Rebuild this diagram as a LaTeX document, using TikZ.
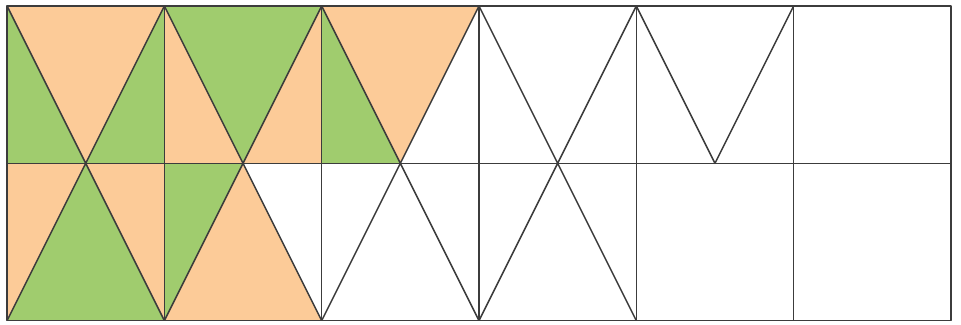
\documentclass[tikz,border=0pt]{standalone}
\usepackage{xcolor}
\usepackage{tikz}
\definecolor{PeachFill}{RGB}{252,203,152}
\definecolor{LeafFill}{RGB}{160,204,110}
\definecolor{PencilLine}{RGB}{60,60,60}

\begin{document}
\begin{tikzpicture}[
  x=2cm,y=2cm,
  peach/.style={fill=PeachFill},
  leaf/.style={fill=LeafFill},
  pencil/.style={draw=PencilLine,line width=0.55pt,line join=round}
]
\useasboundingbox (-0.045,-0.025) rectangle (6.064,2.038);
% top row fills
\fill[leaf]  (0,2) -- (0,1) -- (0.5,1) -- cycle;
\fill[peach] (0,2) -- (1,2) -- (0.5,1) -- cycle;
\fill[leaf]  (0.5,1) -- (1,2) -- (1,1) -- cycle;
\fill[peach] (1,2) -- (1,1) -- (1.5,1) -- cycle;
\fill[leaf]  (1,2) -- (2,2) -- (1.5,1) -- cycle;
\fill[peach] (1.5,1) -- (2,2) -- (2,1) -- cycle;
\fill[leaf]  (2,2) -- (2,1) -- (2.5,1) -- cycle;
\fill[peach] (2,2) -- (3,2) -- (2.5,1) -- cycle;
% bottom row fills
\fill[peach] (0,1) -- (0.5,1) -- (0,0) -- cycle;
\fill[leaf]  (0.5,1) -- (0,0) -- (1,0) -- cycle;
\fill[peach] (0.5,1) -- (1,1) -- (1,0) -- cycle;
\fill[leaf]  (1,1) -- (1.5,1) -- (1,0) -- cycle;
\fill[peach] (1.5,1) -- (1,0) -- (2,0) -- cycle;
% grid
\draw[pencil] (0,0) rectangle (6,2);
\draw[pencil] (0,1) -- (6,1);
\foreach \i in {1,...,5}
  \draw[pencil] (\i,0) -- (\i,2);
% zigzags
\foreach \i in {0,...,4}
  \draw[pencil] (\i,2) -- (\i+0.5,1) -- (\i+1,2);
\foreach \i in {0,...,3}
  \draw[pencil] (\i,0) -- (\i+0.5,1) -- (\i+1,0);
\end{tikzpicture}
\end{document}
